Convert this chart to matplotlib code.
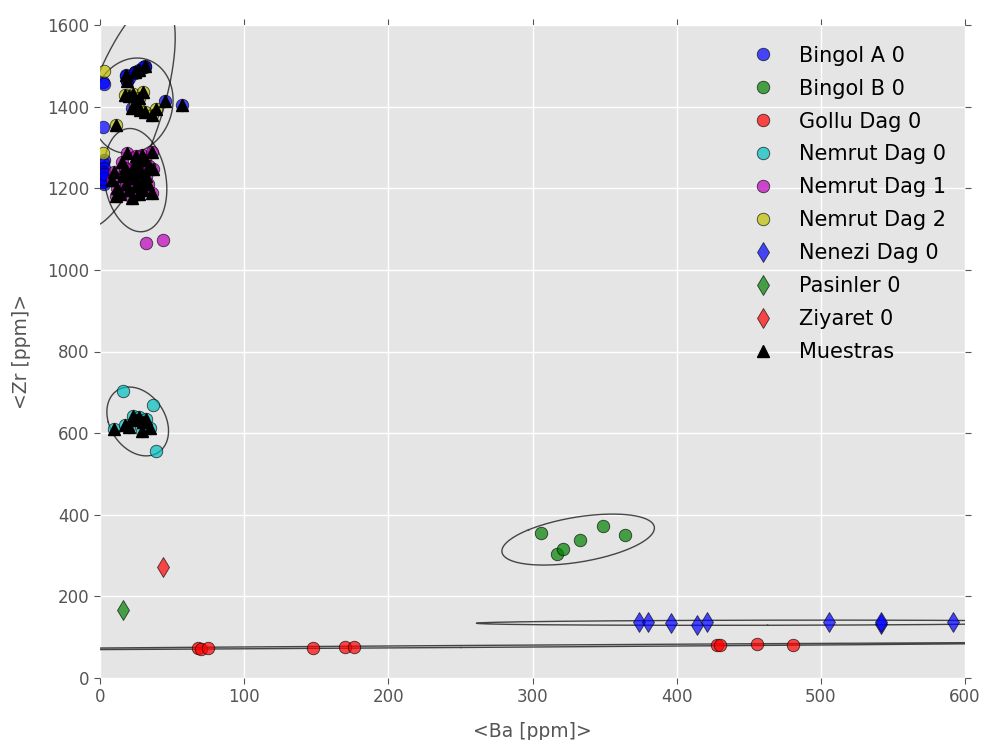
import numpy as np
import matplotlib
matplotlib.use('Agg')
from matplotlib import pyplot as plt

plt.style.use('ggplot')
plt.rcParams['font.family'] = ['DejaVu Sans']

# groups (Ba, Zr) in ppm
bingol_a_x = [2, 3, 2, 3, 2, 3, 2, 3, 2, 3, 2, 2, 3,
              18, 24, 31, 22, 45, 57, 19, 27, 18, 24, 31, 19, 27, 24, 30, 20]
bingol_a_y = [1460, 1455, 1351, 1270, 1262, 1250, 1240, 1228, 1218, 1210, 1215, 1222, 1235,
              1478, 1484, 1500, 1396, 1413, 1404, 1462, 1490, 1476, 1486, 1498, 1464, 1488,
              1482, 1496, 1470]

bingol_b_x = [306, 317, 321, 333, 349, 364]
bingol_b_y = [356, 304, 316, 337, 372, 350]

gollu_x = [68, 70, 75, 148, 170, 176, 428, 430, 456, 481]
gollu_y = [73, 72, 73.5, 74, 76.5, 76.5, 82, 80.5, 83, 81]

nemrut0_x = [16, 37, 39, 10, 17, 23, 27, 30, 35, 29, 20, 25, 32]
nemrut0_y = [704, 670, 557, 610, 620, 642, 640, 627, 612, 606, 616, 633, 635]

nemrut1_x = [19, 29, 36, 37, 36, 15, 8, 10, 12, 14, 16, 18, 20, 22, 23, 24, 25, 26,
             27, 28, 29, 30, 31, 32, 33, 34, 11, 17, 21, 25, 32, 44]
nemrut1_y = [1287, 1282, 1290, 1247, 1188, 1265, 1220, 1240, 1200, 1185, 1230, 1210, 1195,
             1175, 1250, 1225, 1205, 1260, 1185, 1240, 1215, 1195, 1270, 1230, 1210, 1255,
             1180, 1250, 1235, 1280, 1065, 1073]

nemrut2_x = [3, 2, 11, 17, 23, 30, 24, 28, 31, 36, 39, 27, 20]
nemrut2_y = [1488, 1287, 1355, 1429, 1431, 1437, 1404, 1392, 1388, 1380, 1394, 1420, 1425]

nenezi_x = [374, 380, 396, 414, 421, 506, 542, 542, 592]
nenezi_y = [137, 137, 134, 130, 136, 137, 133, 138, 137]

pasinler_x = [16]
pasinler_y = [167]

ziyaret_x = [44]
ziyaret_y = [273]

# samples
muestras_x = [18, 24, 31, 22, 45, 57, 19, 27,
              11, 17, 23, 30, 24, 28, 31, 36, 39, 27, 20,
              19, 29, 36, 37, 36, 15, 8, 10, 12, 14, 16, 18, 20, 22, 23, 24, 25, 26,
              27, 28, 29, 30, 31, 32, 33, 34, 11, 17, 21, 25,
              10, 17, 23, 27, 30, 35, 29, 20, 25, 32]
muestras_y = [1478, 1484, 1500, 1396, 1413, 1404, 1462, 1490,
              1355, 1429, 1431, 1437, 1404, 1392, 1388, 1380, 1394, 1420, 1425,
              1287, 1282, 1290, 1247, 1188, 1265, 1220, 1240, 1200, 1185, 1230, 1210, 1195,
              1175, 1250, 1225, 1205, 1260, 1185, 1240, 1215, 1195, 1270, 1230, 1210, 1255,
              1180, 1250, 1235, 1280,
              610, 620, 642, 640, 627, 612, 606, 616, 633, 635]

groups = [
    ('Bingol A 0', bingol_a_x, bingol_a_y, 'o', 'b'),
    ('Bingol B 0', bingol_b_x, bingol_b_y, 'o', 'g'),
    ('Gollu Dag 0', gollu_x, gollu_y, 'o', 'r'),
    ('Nemrut Dag 0', nemrut0_x, nemrut0_y, 'o', 'c'),
    ('Nemrut Dag 1', nemrut1_x, nemrut1_y, 'o', 'm'),
    ('Nemrut Dag 2', nemrut2_x, nemrut2_y, 'o', 'y'),
    ('Nenezi Dag 0', nenezi_x, nenezi_y, 'd', 'b'),
    ('Pasinler 0', pasinler_x, pasinler_y, 'd', 'g'),
    ('Ziyaret 0', ziyaret_x, ziyaret_y, 'd', 'r'),
]
classic = {'b': (0, 0, 1), 'g': (0, 0.5, 0), 'r': (1, 0, 0), 'c': (0, 0.75, 0.75),
           'm': (0.75, 0, 0.75), 'y': (0.75, 0.75, 0)}


def conf_ellipse(x, y, k=np.sqrt(-2 * np.log(0.05))):
    # 95% confidence ellipse from the sample covariance
    x, y = np.asarray(x, float), np.asarray(y, float)
    vals, vecs = np.linalg.eigh(np.cov(x, y))
    t = np.linspace(0, 2 * np.pi, 300)
    circ = np.vstack([np.cos(t), np.sin(t)]) * (k * np.sqrt(vals))[:, None]
    pts = vecs @ circ
    return pts[0] + x.mean(), pts[1] + y.mean()


fig = plt.figure(figsize=(9.83, 7.4), dpi=100)
ax = fig.add_axes([100 / 983, 1 - 678 / 740, 865 / 983, 653 / 740])

for name, x, y, m, c in groups:
    ms = 9 if m == 'o' else 10
    ax.plot(x, y, m, color=classic[c], alpha=0.7, markersize=ms, mec='k', mew=0.6,
            label=name, zorder=3)
    if len(x) > 2:
        ex, ey = conf_ellipse(x, y)
        ax.plot(ex, ey, '-', color='k', alpha=0.7, lw=1, zorder=2)

ax.plot(muestras_x, muestras_y, '^', color='k', markersize=9, mec='k', label='Muestras', zorder=4)

ax.set_xlim(0, 600)
ax.set_ylim(0, 1600)
ax.set_xticks(range(0, 601, 100))
ax.set_yticks(range(0, 1601, 200))
ax.tick_params(axis='both', labelsize=12, colors='#555555', direction='out',
               top=True, right=True, length=4)
ax.set_xlabel('<Ba [ppm]>', fontsize=13.5, color='#555555', labelpad=11)
ax.set_ylabel('<Zr [ppm]>', fontsize=13.5, color='#555555', labelpad=12)
ax.grid(True, color='white', lw=1)
for s in ax.spines.values():
    s.set_visible(False)

ax.legend(loc='upper right', numpoints=1, frameon=False, fontsize=15,
          labelspacing=0.62, handletextpad=0.72, bbox_to_anchor=(1.0, 0.997))

plt.savefig('out.png', dpi=100)
